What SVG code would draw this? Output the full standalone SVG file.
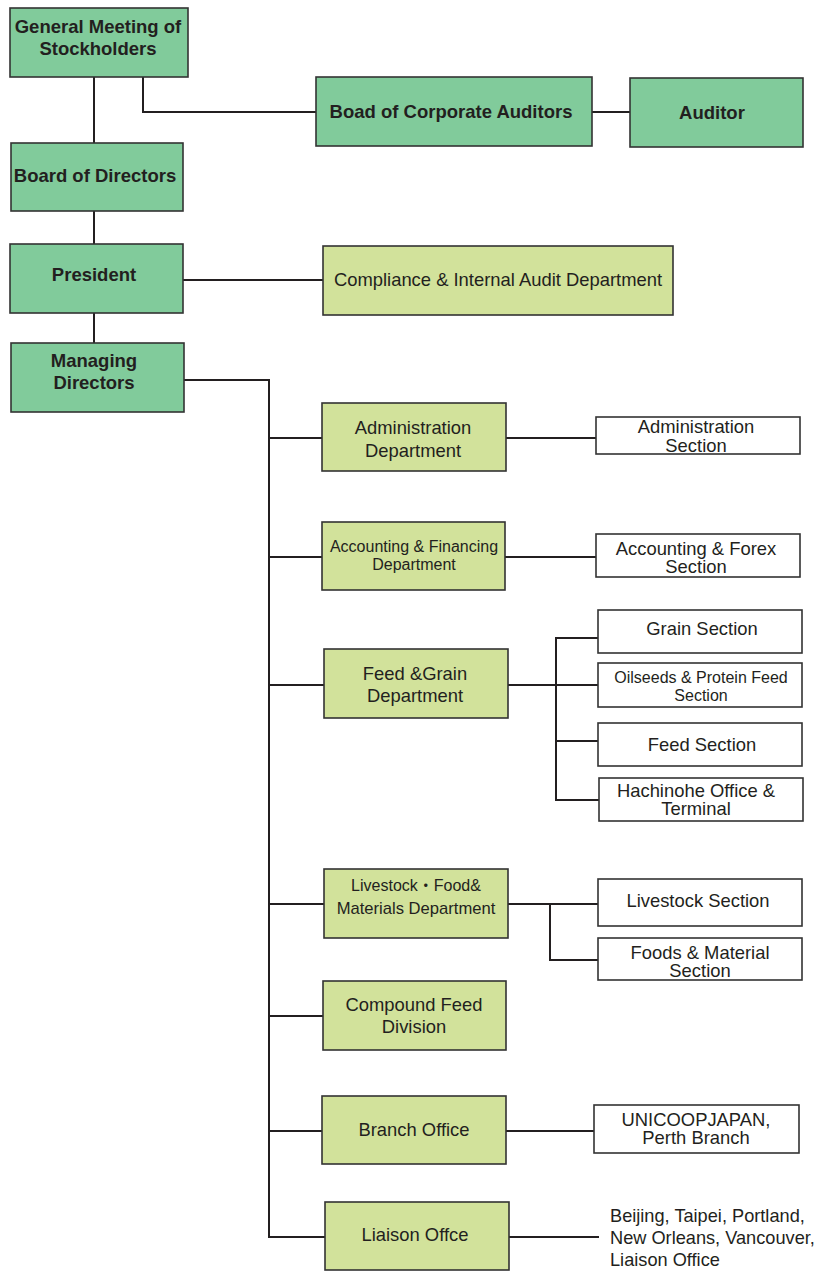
<svg xmlns="http://www.w3.org/2000/svg" width="829" height="1271" viewBox="0 0 829 1271">
<style>
  .dk { fill: #81CB9B; stroke: #333333; stroke-width: 1.6; }
  .lt { fill: #D2E29B; stroke: #333333; stroke-width: 1.6; }
  .wh { fill: #FFFFFF; stroke: #333333; stroke-width: 1.6; }
  .b { font-family: "Liberation Sans", Arial, sans-serif; font-weight: bold; font-size: 18.5px; fill: #231F20; text-anchor: middle; }
  .r { font-family: "Liberation Sans", Arial, "Noto Sans CJK JP", sans-serif; font-size: 18.4px; fill: #231F20; text-anchor: middle; }
  .s { font-family: "Liberation Sans", Arial, "Noto Sans CJK JP", sans-serif; font-size: 16px; fill: #231F20; text-anchor: middle; }
  .m { font-family: "Liberation Sans", Arial, "Noto Sans CJK JP", sans-serif; font-size: 16.6px; fill: #231F20; text-anchor: middle; }
  .l { font-family: "Liberation Sans", Arial, sans-serif; font-size: 18.2px; fill: #231F20; }
  .c { fill: none; stroke: #231F20; stroke-width: 2; }
</style>
<rect width="829" height="1271" fill="#FFFFFF"/>
<g id="connectors">
  <path class="c" d="M94 77 V143"/>
  <path class="c" d="M143 77 V112 H316"/>
  <path class="c" d="M592 112 H630"/>
  <path class="c" d="M94 211 V244"/>
  <path class="c" d="M183 280 H323"/>
  <path class="c" d="M94 313 V343"/>
  <path class="c" d="M184 380 H269 V1237 H325"/>
  <path class="c" d="M269 438 H322"/>
  <path class="c" d="M269 557 H322"/>
  <path class="c" d="M269 685 H324"/>
  <path class="c" d="M269 904 H324"/>
  <path class="c" d="M269 1016 H323"/>
  <path class="c" d="M269 1131 H322"/>
  <path class="c" d="M506 438 H596"/>
  <path class="c" d="M505 557 H596"/>
  <path class="c" d="M508 685 H598"/>
  <path class="c" d="M598 638 H556 V800 H599"/>
  <path class="c" d="M556 741 H598"/>
  <path class="c" d="M508 904 H598"/>
  <path class="c" d="M550 904 V960 H598"/>
  <path class="c" d="M506 1131 H594"/>
  <path class="c" d="M509 1237 H599"/>
</g>
<g id="general-meeting">
  <rect class="dk" x="10" y="8" width="178" height="69"/>
  <text class="b" x="98" y="33">General Meeting of</text>
  <text class="b" x="98" y="55">Stockholders</text>
</g>
<g id="board-corporate-auditors">
  <rect class="dk" x="316" y="77" width="276" height="69"/>
  <text class="b" x="451" y="118">Boad of Corporate Auditors</text>
</g>
<g id="auditor">
  <rect class="dk" x="630" y="78" width="173" height="69"/>
  <text class="b" x="712" y="119">Auditor</text>
</g>
<g id="board-of-directors">
  <rect class="dk" x="11" y="143" width="172" height="68"/>
  <text class="b" x="95" y="182">Board of Directors</text>
</g>
<g id="president">
  <rect class="dk" x="10" y="244" width="173" height="69"/>
  <text class="b" x="94" y="281">President</text>
</g>
<g id="compliance">
  <rect class="lt" x="323" y="246" width="350" height="69"/>
  <text class="r" x="498" y="286">Compliance &amp; Internal Audit Department</text>
</g>
<g id="managing-directors">
  <rect class="dk" x="11" y="343" width="173" height="69"/>
  <text class="b" x="94" y="366.5">Managing</text>
  <text class="b" x="94" y="389">Directors</text>
</g>
<g id="administration-department">
  <rect class="lt" x="322" y="403" width="184" height="68"/>
  <text class="r" x="413" y="434">Administration</text>
  <text class="r" x="413" y="456.5">Department</text>
</g>
<g id="administration-section">
  <rect class="wh" x="596" y="417" width="204" height="37"/>
  <text class="r" x="696" y="433">Administration</text>
  <text class="r" x="696" y="451.5">Section</text>
</g>
<g id="accounting-department">
  <rect class="lt" x="322" y="522" width="183" height="68"/>
  <text class="s" x="414" y="551.5">Accounting &amp; Financing</text>
  <text class="s" x="414" y="570">Department</text>
</g>
<g id="accounting-section">
  <rect class="wh" x="596" y="534" width="204" height="43"/>
  <text class="r" x="696" y="555">Accounting &amp; Forex</text>
  <text class="r" x="696" y="572.5">Section</text>
</g>
<g id="feed-grain-department">
  <rect class="lt" x="324" y="649" width="184" height="69"/>
  <text class="r" x="415" y="680">Feed &amp;Grain</text>
  <text class="r" x="415" y="701.5">Department</text>
</g>
<g id="grain-section">
  <rect class="wh" x="598" y="610" width="204" height="43"/>
  <text class="r" x="702" y="635">Grain Section</text>
</g>
<g id="oilseeds-section">
  <rect class="wh" x="598" y="663" width="204" height="44"/>
  <text class="s" x="701" y="682.5">Oilseeds &amp; Protein Feed</text>
  <text class="s" x="701" y="700.5">Section</text>
</g>
<g id="feed-section">
  <rect class="wh" x="598" y="723" width="204" height="43"/>
  <text class="r" x="702" y="750.5">Feed Section</text>
</g>
<g id="hachinohe">
  <rect class="wh" x="599" y="778" width="204" height="43"/>
  <text class="r" x="696" y="797">Hachinohe Office &amp;</text>
  <text class="r" x="696" y="815">Terminal</text>
</g>
<g id="livestock-department">
  <rect class="lt" x="324" y="869" width="184" height="69"/>
  <text class="s" x="416" y="890.5">Livestock・Food&amp;</text>
  <text class="m" x="416" y="914">Materials Department</text>
</g>
<g id="livestock-section">
  <rect class="wh" x="598" y="879" width="204" height="47"/>
  <text class="r" x="698" y="906.5">Livestock Section</text>
</g>
<g id="foods-material-section">
  <rect class="wh" x="598" y="938" width="204" height="42"/>
  <text class="r" x="700" y="959">Foods &amp; Material</text>
  <text class="r" x="700" y="976.5">Section</text>
</g>
<g id="compound-feed">
  <rect class="lt" x="323" y="981" width="183" height="69"/>
  <text class="r" x="414" y="1011">Compound Feed</text>
  <text class="r" x="414" y="1032.5">Division</text>
</g>
<g id="branch-office">
  <rect class="lt" x="322" y="1096" width="184" height="68"/>
  <text class="r" x="414" y="1136">Branch Office</text>
</g>
<g id="perth-branch">
  <rect class="wh" x="594" y="1105" width="205" height="48"/>
  <text class="r" x="696" y="1126">UNICOOPJAPAN,</text>
  <text class="r" x="696" y="1144">Perth Branch</text>
</g>
<g id="liaison-office">
  <rect class="lt" x="325" y="1202" width="184" height="68"/>
  <text class="r" x="415" y="1241">Liaison Offce</text>
</g>
<g id="liaison-list">
  <text class="l" x="610" y="1222">Beijing, Taipei, Portland,</text>
  <text class="l" x="610" y="1244">New Orleans, Vancouver,</text>
  <text class="l" x="610" y="1266">Liaison Office</text>
</g>
</svg>
